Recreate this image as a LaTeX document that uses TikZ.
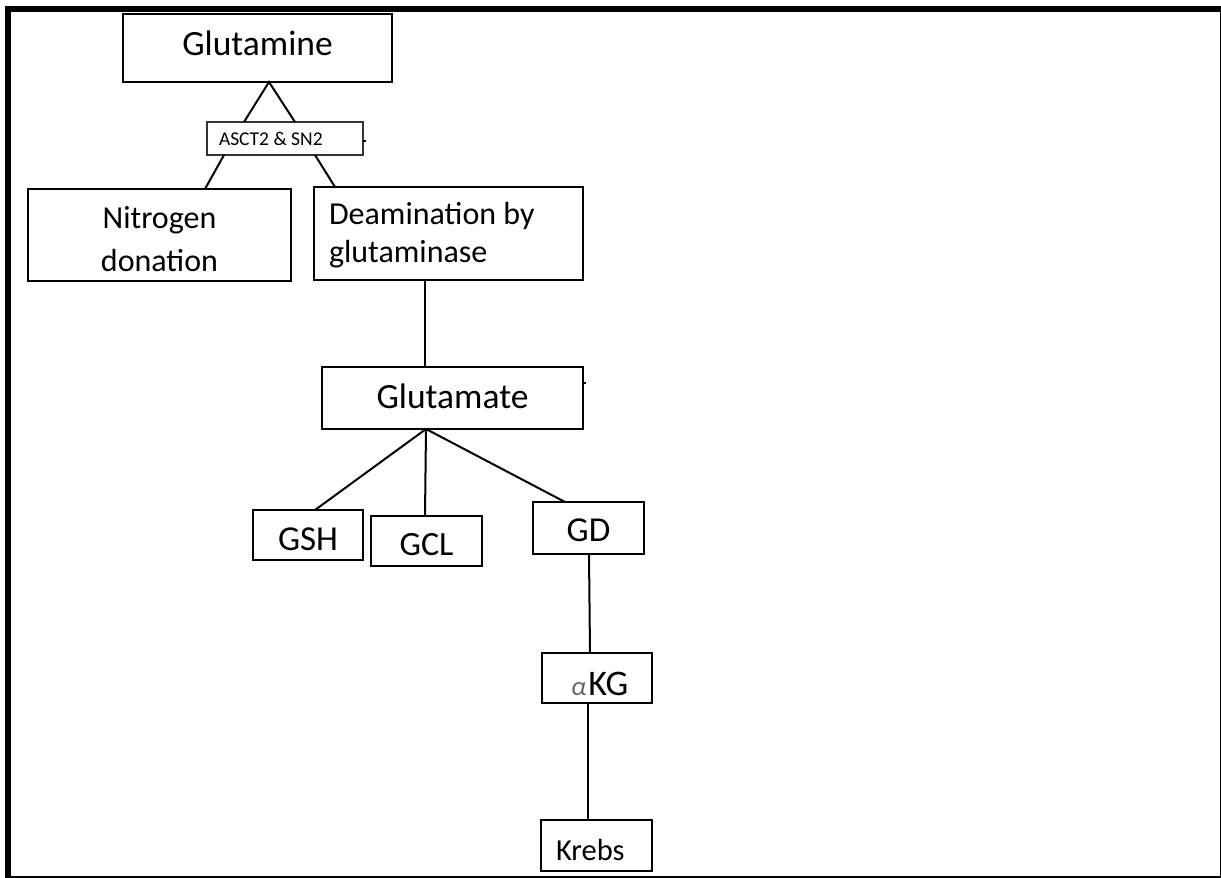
\documentclass[tikz,border=0pt]{standalone}
\usepackage{fontspec}
\setmainfont{Carlito}
\usetikzlibrary{calc}
\tikzset{
  box/.style={draw, line width=2.2pt, inner sep=0pt, outer sep=0pt, text depth=0pt},
  smallbox/.style={draw=black!80, line width=1.2pt, inner sep=0pt, outer sep=0pt, text depth=0pt},
  link/.style={line width=2pt},
  tick/.style={line width=1.2pt},
}
\begin{document}
\begin{tikzpicture}[x=1pt,y=-1pt]
\useasboundingbox (0,0) rectangle (1221,878);
% frame
\fill (5,6) rectangle (1221,12);
\fill (5,6) rectangle (11,878);
\fill (1219.8,6) rectangle (1221,878);
\fill (5,875.5) rectangle (1221,878);

\node[box, minimum width=269pt, minimum height=68pt, text height=14pt,
      font=\fontsize{35.5}{40}\selectfont] (glut) at (257.5,48) {Glutamine};
\node[smallbox, minimum width=156pt, minimum height=33pt, text height=13pt,
      font=\fontsize{19.5}{22}\selectfont] (asct) at (285,138.5)
      {\makebox[156pt][l]{\hspace*{12pt}ASCT2 \& SN2}};
\node[box, minimum width=263pt, minimum height=92pt, text height=72pt,
      font=\fontsize{32}{43}\selectfont] (nit) at (159.5,235)
      {\begin{tabular}[b]{@{}c@{}}Nitrogen\\donation\end{tabular}};
\node[box, minimum width=269pt, minimum height=93pt, text height=57pt,
      font=\fontsize{32}{38}\selectfont] (deam) at (448.5,233.5)
      {\makebox[269pt][l]{\hspace*{15pt}\begin{tabular}[b]{@{}l@{}}Deamination by\\glutaminase\end{tabular}}};
\node[box, minimum width=261pt, minimum height=62pt, text height=20pt,
      font=\fontsize{35.5}{40}\selectfont] (glu) at (452.5,398) {Glutamate};
\node[box, minimum width=110pt, minimum height=50pt, text height=30pt,
      font=\fontsize{35}{40}\selectfont] (gsh) at (308,535) {GSH};
\node[box, minimum width=111pt, minimum height=50pt, text height=28pt,
      font=\fontsize{34}{40}\selectfont] (gcl) at (426.5,541) {GCL};
\node[box, minimum width=111pt, minimum height=52pt, text height=26pt,
      font=\fontsize{35}{40}\selectfont] (gd) at (588.5,528) {GD};
\node[box, minimum width=110pt, minimum height=50pt, text height=34pt,
      font=\fontsize{36}{40}\selectfont] (akg) at (597,678)
      {\makebox[110pt][l]{\hspace*{29pt}{\color{black!60}\fontsize{27}{30}\selectfont\itshape α}\hspace{2pt}KG}};
\node[box, minimum width=111pt, minimum height=51pt, text height=29pt,
      font=\fontsize{30.5}{36}\selectfont] (krebs) at (596.5,845.5)
      {\makebox[111pt][l]{\hspace*{15pt}Krebs}};

% connectors
\draw[link] ([xshift=-41pt]asct.north) -- ([xshift=11.5pt]glut.south) -- ([xshift=10pt]asct.north);
\draw[link] ([xshift=-61pt]asct.south) -- ([xshift=45.5pt]nit.north);
\draw[link] ([xshift=30pt]asct.south) -- ([xshift=-113.5pt]deam.north);
\draw[link] ([xshift=-23.5pt]deam.south) -- ([xshift=-27.5pt]glu.north);
\draw[link] ([xshift=7pt]gsh.north) -- ([xshift=-26.5pt]glu.south) -- ([xshift=-23.5pt]gd.north);
\draw[link] ([xshift=-26.5pt]glu.south) -- ([xshift=-1.5pt]gcl.north);
\draw[link] ([xshift=0.5pt]gd.south) -- ([xshift=-7pt]akg.north);
\draw[link] ([xshift=-9pt]akg.south) -- ([xshift=-8.5pt]krebs.north);
% small ticks
\draw[tick] ([yshift=-2.5pt]asct.east) -- ++(3,0);
\draw[tick] ([yshift=15pt]glu.east) -- ++(3,0);
\end{tikzpicture}
\end{document}
